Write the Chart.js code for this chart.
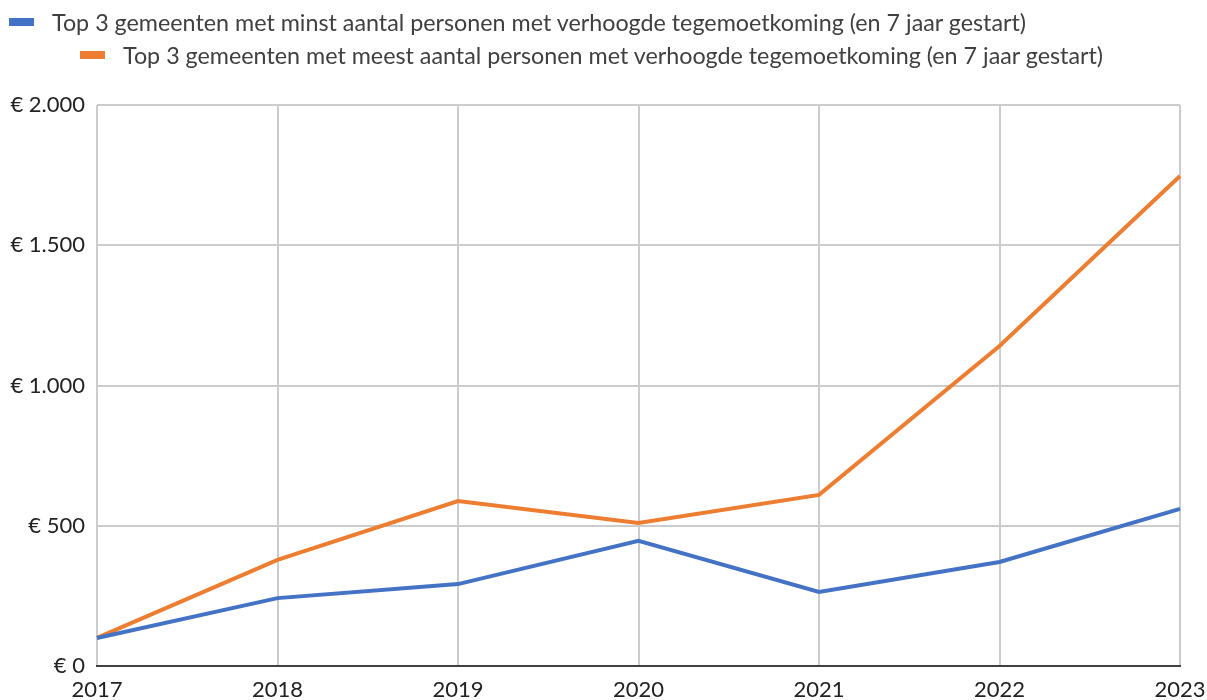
<!DOCTYPE html>
<html>
<head>
<meta charset="utf-8">
<script src="https://cdn.jsdelivr.net/npm/chart.js@4"></script>
<style>
  html, body { margin: 0; padding: 0; background: #fff; }
  #wrap { position: relative; width: 1207px; height: 700px; }
  .leg { position: absolute; font-family: "Lato", sans-serif; font-size: 23.3px; color: #404040; white-space: nowrap; }
  .leg span.box { position: absolute; width: 25px; height: 8px; }
  .leg span.txt { position: absolute; line-height: 24px; }
</style>
</head>
<body>
<div id="wrap">
  <div class="leg" id="leg1" style="left:9px;top:10px;">
    <span class="box" style="left:0;top:8px;background:#4472C4"></span>
    <span class="txt" style="left:43px;top:0"></span>
  </div>
  <div class="leg" id="leg2" style="left:80px;top:43px;">
    <span class="box" style="left:0;top:8px;background:#ED7D31"></span>
    <span class="txt" style="left:43px;top:0"></span>
  </div>
  <canvas id="chart" width="1207" height="700"></canvas>
</div>
<script>
const years = ["2017", "2018", "2019", "2020", "2021", "2022", "2023"];
const seriesNames = [
  "Top 3 gemeenten met minst aantal personen met verhoogde tegemoetkoming (en 7 jaar gestart)",
  "Top 3 gemeenten met meest aantal personen met verhoogde tegemoetkoming (en 7 jaar gestart)"
];
const minstValues = [100, 242, 292, 446, 264, 371, 560];
const meestValues = [100, 378, 588, 510, 610, 1141, 1747];
const yTicks = [0, 500, 1000, 1500, 2000];

document.querySelector("#leg1 .txt").textContent = seriesNames[0];
document.querySelector("#leg2 .txt").textContent = seriesNames[1];

function euro(v) {
  return "€ " + String(v).replace(/\B(?=(\d{3})+(?!\d))/g, ".");
}

new Chart(document.querySelector("#chart"), {
  type: "line",
  data: {
    labels: years,
    datasets: [
      {
        label: seriesNames[0],
        data: minstValues,
        borderColor: "#4472C4",
        backgroundColor: "#4472C4",
        borderWidth: 4,
        pointRadius: 0,
        tension: 0,
      },
      {
        label: seriesNames[1],
        data: meestValues,
        borderColor: "#ED7D31",
        backgroundColor: "#ED7D31",
        borderWidth: 4,
        pointRadius: 0,
        tension: 0,
      },
    ],
  },
  options: {
    responsive: false,
    animation: false,
    layout: { padding: { top: 105, right: 27, left: 0, bottom: 0 } },
    plugins: {
      legend: { display: false },
      tooltip: { enabled: false },
    },
    scales: {
      x: {
        offset: false,
        grid: { color: "#cccccc", lineWidth: 2, drawTicks: false },
        border: { color: "#404040", width: 2 },
        ticks: {
          color: "#222",
          padding: 11,
          maxRotation: 0,
          autoSkip: false,
          font: { family: "Lato", size: 22 },
        },
        afterFit: (scale) => {
          scale.height = 34;
          // labels may hang over the plot edges, like the original
          scale.paddingLeft = 0;
          scale.paddingRight = 0;
        },
      },
      y: {
        min: 0,
        max: 2000,
        afterBuildTicks: (scale) => { scale.ticks = yTicks.map((v) => ({ value: v })); },
        grid: { color: "#cccccc", lineWidth: 2, drawTicks: false },
        border: { display: false },
        ticks: {
          color: "#222",
          padding: 12,
          font: { family: "Lato", size: 22 },
          callback: (v) => euro(v),
        },
        afterFit: (scale) => {
          scale.width = 97;
          scale.paddingTop = 0;
          scale.paddingBottom = 0;
        },
      },
    },
  },
});
</script>
</body>
</html>
